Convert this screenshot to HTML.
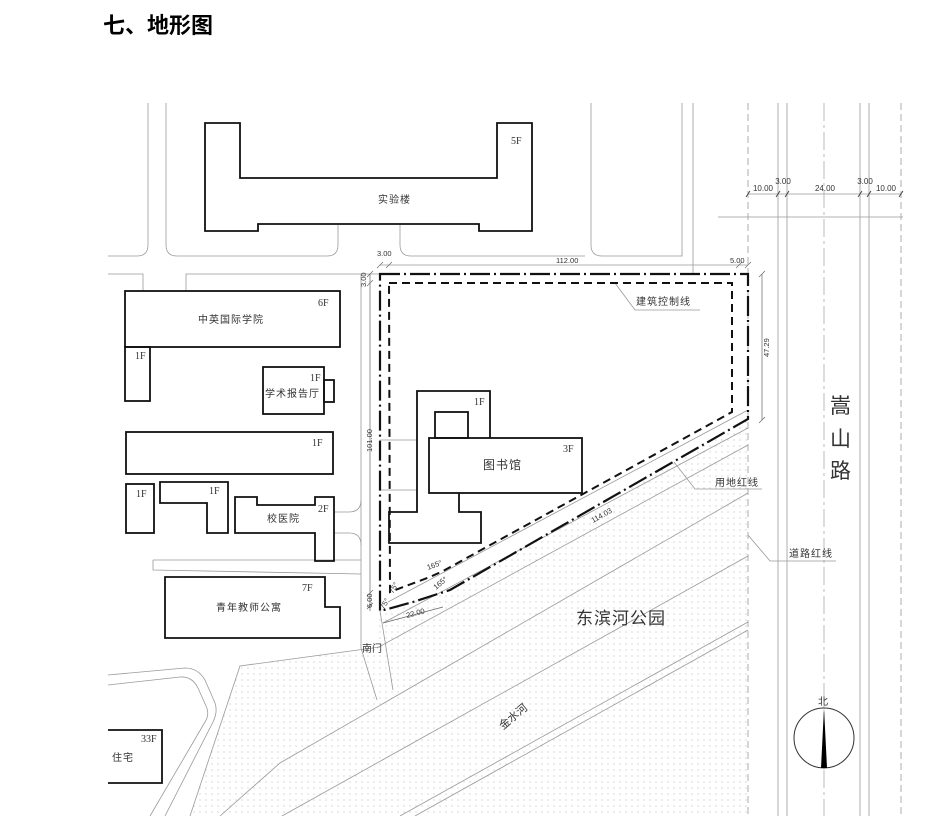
<!DOCTYPE html>
<html><head><meta charset="utf-8"><style>
html,body{margin:0;padding:0;background:#fff;}
svg{display:block;}
text{font-family:"Liberation Sans","Noto Sans CJK SC",sans-serif;fill:#333;}
</style></head><body>
<svg width="944" height="833" viewBox="0 0 944 833" xmlns="http://www.w3.org/2000/svg">
<defs>
<pattern id="dots" width="6" height="6" patternUnits="userSpaceOnUse"><circle cx="2" cy="2" r="0.6" fill="#bbb"/></pattern>
<clipPath id="cl"><rect x="108" y="103" width="795" height="713"/></clipPath>
</defs>
<text x="103" y="33" font-size="22" font-weight="bold" style="fill:#000">七、地形图</text>
<g clip-path="url(#cl)">
<polygon points="380,611 450,590 748,420 748,816 190,816 240,666 377,648" fill="url(#dots)"/>
<g stroke="#999" stroke-width="0.8" fill="none">
<path d="M148,103 V245 Q148,256 137,256 H108"/>
<path d="M166,103 V245 Q166,256 177,256 H327 Q338,256 338,245 V225"/>
<path d="M400,225 V245 Q400,256 411,256 H585"/>
<path d="M591,103 V245 Q591,256 602,256 H682 V103"/>
<path d="M693,103 V274"/>
<path d="M108,274 H143 V291"/>
<path d="M186,291 V274 H380"/>
<path d="M380,265 H748"/>
<path d="M361,274 V648"/>
<path d="M153,560 H361 M153,560 V570 L361,574"/>
<path d="M334,512 H349 Q361,512 361,500"/>
<path d="M334,533 H349 Q361,533 361,545"/>
<path d="M380,440 H417 M380,490 H417"/>
<path d="M361,648 L377,700 M380,611 L393,690"/>
<path d="M380,647 L240,666 L190,816"/>
<path d="M108,675 L185,668 Q198,668 205,680 L215,703 Q218,712 213,722 L165,816"/>
<path d="M108,685 L180,677 Q192,676 198,688 L206,706 Q210,714 205,722 L150,816"/>
<path d="M748,410 L388,602"/>
<path d="M748,428 L383,623"/>
<path d="M748,445 L377,648"/>
<path d="M748,493 L280,763 L220,816"/>
<path d="M748,556 L282,816"/>
<path d="M748,622 L400,816"/>
<path d="M748,630 L415,816"/>
<path d="M778,103 V816 M787,103 V816 M860,103 V816 M869,103 V816"/>
<path d="M718,217 H903"/>
<path d="M748,194 H901"/>
</g>
<g stroke="#999" stroke-width="0.8" stroke-dasharray="7,4" fill="none">
<path d="M748,103 V816 M901,103 V816"/>
</g>
<path d="M824,103 V816" stroke="#aaa" stroke-width="0.8" stroke-dasharray="18,4,3,4" fill="none"/>
</g>
<g font-size="8" text-anchor="middle">
<text x="763" y="191">10.00</text><text x="783" y="184">3.00</text><text x="825" y="191">24.00</text>
<text x="865" y="184">3.00</text><text x="886" y="191">10.00</text>
</g>
<g stroke="#333" stroke-width="0.8">
<path d="M746,197 L750,191 M776,197 L780,191 M785,197 L789,191 M858,197 L862,191 M867,197 L871,191 M899,197 L903,191"/>
</g>
<g stroke="#111" stroke-width="1.8" fill="none">
<path d="M205,123 H240 V178 H497 V123 H532 V231 H479 V224 H258 V231 H205 Z"/>
<rect x="125" y="291" width="215" height="56"/>
<rect x="125" y="347" width="25" height="54"/>
<rect x="263" y="367" width="61" height="47"/>
<rect x="324" y="380" width="10" height="22"/>
<rect x="126" y="432" width="207" height="42"/>
<rect x="126" y="484" width="28" height="49"/>
<path d="M160,482 H228 V533 H207 V503 H160 Z"/>
<path d="M235,497 H257 V505 H315 V497 H334 V561 H315 V533 H235 Z"/>
<path d="M165,577 H325 V607 H340 V638 H165 Z"/>
<path d="M108,730 H162 V783 H108"/>
<path d="M417,438 V391 H490 V438"/>
<rect x="435" y="412" width="33" height="26"/>
<rect x="429" y="438" width="153" height="55"/>
<path d="M417,438 V512 H389 V543 H481 V512 H459 V493"/>
</g>
<g font-size="10">
<text x="511" y="144" style="font-family:'Liberation Serif'">5F</text>
<text x="318" y="306" style="font-family:'Liberation Serif'">6F</text>
<text x="135" y="359" style="font-family:'Liberation Serif'">1F</text>
<text x="310" y="381" style="font-family:'Liberation Serif'">1F</text>
<text x="312" y="446" style="font-family:'Liberation Serif'">1F</text>
<text x="136" y="497" style="font-family:'Liberation Serif'">1F</text>
<text x="209" y="494" style="font-family:'Liberation Serif'">1F</text>
<text x="318" y="512" style="font-family:'Liberation Serif'">2F</text>
<text x="302" y="591" style="font-family:'Liberation Serif'">7F</text>
<text x="141" y="742" style="font-family:'Liberation Serif'">33F</text>
<text x="474" y="405" style="font-family:'Liberation Serif'">1F</text>
<text x="563" y="452" style="font-family:'Liberation Serif'">3F</text>
</g>
<g font-size="10">
<text x="378" y="203" letter-spacing="1">实验楼</text>
<text x="198" y="323" letter-spacing="1">中英国际学院</text>
<text x="265" y="397" letter-spacing="1">学术报告厅</text>
<text x="267" y="522" letter-spacing="1">校医院</text>
<text x="216" y="611" letter-spacing="1">青年教师公寓</text>
<text x="112" y="761" letter-spacing="1">住宅</text>
<text x="362" y="652">南门</text>
<text x="636" y="305" letter-spacing="1">建筑控制线</text>
<text x="715" y="486" letter-spacing="1">用地红线</text>
<text x="789" y="557" letter-spacing="1">道路红线</text>
</g>
<text x="483" y="469" font-size="12" letter-spacing="1">图书馆</text>
<text x="576" y="624" font-size="17" letter-spacing="1">东滨河公园</text>
<text x="0" y="0" font-size="11" transform="translate(503,730) rotate(-40)">金水河</text>
<g font-size="21"><text x="830" y="413">嵩</text><text x="830" y="446">山</text><text x="830" y="478">路</text></g>
<g stroke="#999" stroke-width="0.8" fill="none">
<path d="M615,283 L635,310 H700"/>
<path d="M674,462 L695,489 H762"/>
<path d="M748,535 L770,561 H836"/>
</g>
<path d="M380,274 H748 V419 L450,590 L413,602 L388,609 L380,611 Z" fill="none" stroke="#111" stroke-width="2.2" stroke-dasharray="20,4,2,4"/>
<path d="M389,283 H732 V412 L443,571 L430,577 L390,592 Z" fill="none" stroke="#111" stroke-width="2" stroke-dasharray="8,5"/>
<g stroke="#666" stroke-width="0.7" fill="none">
<path d="M370,274 V611 M762,274 V420"/>
<path d="M377,268 L383,262 M386,268 L392,262 M745,268 L751,262 M736,268 L742,262"/>
<path d="M367,277 L373,271 M367,286 L373,280 M367,609 L373,603 M367,596 L373,590 M759,277 L765,271 M759,423 L765,417"/>
<path d="M383,623 L443,607"/>
</g>
<g font-size="7.5">
<text x="377" y="256">3.00</text>
<text x="556" y="263">112.00</text>
<text x="730" y="263">5.00</text>
<text transform="translate(366,287) rotate(-90)">3.00</text>
<text transform="translate(372,452) rotate(-90)">101.00</text>
<text transform="translate(372,608) rotate(-90)">6.00</text>
<text transform="translate(769,357) rotate(-90)">47.29</text>
<text transform="translate(593,523) rotate(-29)">114.03</text>
<text transform="translate(407,618) rotate(-15)">22.00</text>
<text transform="translate(428,570) rotate(-20)">165°</text>
<text transform="translate(436,590) rotate(-40)">165°</text>
<text transform="translate(393,594) rotate(-60)">75°</text>
<text transform="translate(384,610) rotate(-60)">75°</text>
</g>
<circle cx="824" cy="738" r="30" fill="none" stroke="#333" stroke-width="1"/>
<polygon points="824,708 821,768 827,768" fill="#000"/>
<text x="818" y="705" font-size="10">北</text>
</svg>
</body></html>
